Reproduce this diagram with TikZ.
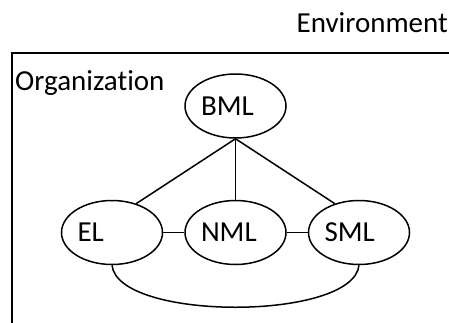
\documentclass[tikz,border=0pt]{standalone}
\usepackage{fontspec}
\setmainfont[Ligatures=NoCommon]{Carlito}
\usetikzlibrary{shapes.geometric}
\begin{document}
\begin{tikzpicture}[x=1pt,y=-1pt,
  lw/.style={line width=1.5pt},
  unit/.style={ellipse,draw,lw,minimum width=101pt,minimum height=64pt,
    inner sep=0pt,text width=69pt,align=left,font=\fontsize{29}{34}\selectfont},
  lbl/.style={inner sep=0pt,font=\fontsize{29}{34}\selectfont}]
\useasboundingbox (0,0) rectangle (449,322);
\clip (0,0) rectangle (449,322);
\draw[line width=1.6pt] (460,53) -- (12,53) -- (12,340);
\node[lbl,anchor=base east] (env) at (448,32) {Environment};
\node[lbl,anchor=base west] (org) at (15,90) {Organization};
\node[unit] (bml) at (235.5,106) {BML};
\node[unit] (el) at (112,232.5) {EL};
\node[unit] (nml) at (235.5,232.5) {NML};
\node[unit] (sml) at (359,232.5) {SML};
\draw[lw] (bml.south) -- (el.50);
\draw[lw] (bml.south) -- (nml.north);
\draw[lw] (bml.south) -- (sml.130);
\draw[lw] (el.east) -- (nml.west);
\draw[lw] (nml.east) -- (sml.west);
\draw[lw] (el.south) .. controls +(6,56) and +(-6,56) .. (sml.south);
\end{tikzpicture}
\end{document}
